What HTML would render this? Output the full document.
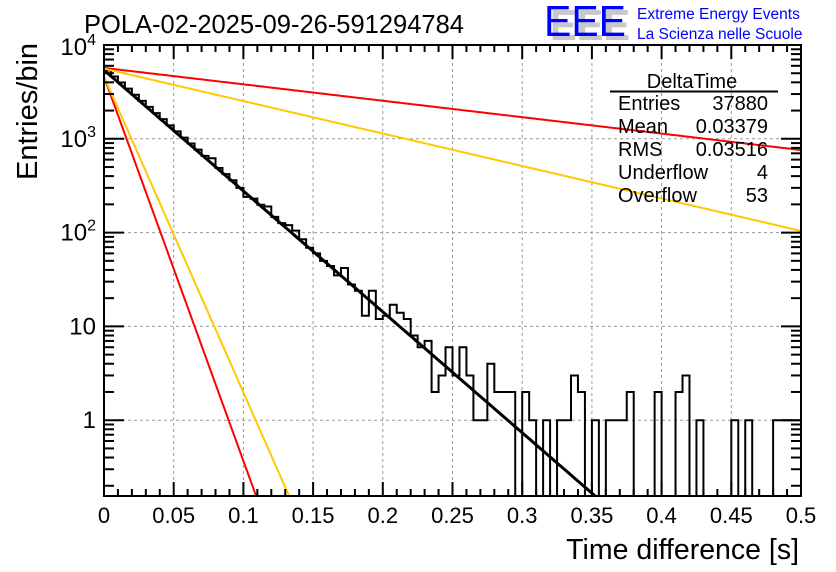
<!DOCTYPE html>
<html><head><meta charset="utf-8"><style>
body{margin:0;background:#fff;}
svg{display:block;font-family:"Liberation Sans",sans-serif;}
</style></head><body>
<svg id="chart" width="836" height="572" viewBox="0 0 836 572" xmlns="http://www.w3.org/2000/svg">
<rect width="836" height="572" fill="#fff"/>
<g id="grid"></g>
<g id="marks"></g>
<g id="axes"></g>
<text x="84" y="33" font-size="25.5">POLA-02-2025-09-26-591294784</text>
<text x="799" y="559" font-size="28.5" text-anchor="end">Time difference [s]</text>
<text transform="translate(37,180) rotate(-90)" font-size="29">Entries/bin</text>
<g>
<text x="550" y="40" font-size="44" fill="#c8c8c8" font-weight="bold" textLength="80" lengthAdjust="spacingAndGlyphs">EEE</text>
<text x="544" y="36" font-size="44" fill="#0000ff" textLength="82" lengthAdjust="spacingAndGlyphs">EEE</text>
<text x="637" y="19" font-size="15.5" fill="#0000ff">Extreme Energy Events</text>
<text x="637" y="39" font-size="15.5" fill="#0000ff">La Scienza nelle Scuole</text>
</g>
<g font-size="20">
<text x="692" y="88" text-anchor="middle">DeltaTime</text>
<line x1="610" y1="91.5" x2="778" y2="91.5" stroke="#000" stroke-width="2"/>
<text x="618" y="110">Entries</text><text x="768" y="110" text-anchor="end">37880</text>
<text x="618" y="133">Mean</text><text x="768" y="133" text-anchor="end">0.03379</text>
<text x="618" y="156">RMS</text><text x="768" y="156" text-anchor="end">0.03516</text>
<text x="618" y="179">Underflow</text><text x="768" y="179" text-anchor="end">4</text>
<text x="618" y="202">Overflow</text><text x="768" y="202" text-anchor="end">53</text>
</g>
</svg>
<script>
// Data
const binWidth = 0.005;
const counts = [5370,4620,3980,3430,2950,2540,2190,1880,1620,1390,
1200,1030,890,766,658,620,488,420,361,300,
240,230,198,190,147,126,120,105,85,69,
60,50,44,35,42,28,24,13,24,12,
13,17,14,12,8,6,7,2,3,6,
3,6,3,1,1,4,2,2,2,0,
2,1,0,1,0,1,1,3,2,0,
1,0,1,1,1,2,0,0,0,2,
0,0,2,3,0,1,0,0,0,0,
1,0,1,0,0,0,1,1,1,1];
const fitNames = ["fit-black","fit-red-steep","fit-yellow-steep","fit-red-flat","fit-yellow-flat"];
const fitColors = ["#000","#ff0000","#ffc800","#ff0000","#ffc800"];
const fitAmp = [5400,4600,4600,5700,5600];
const fitTau = [0.0337,0.0106,0.0129,0.248,0.1255];
const xTicks = [0,0.05,0.1,0.15,0.2,0.25,0.3,0.35,0.4,0.45,0.5];
const yDecades = [0,1,2,3,4];
const yLabels = ["1","10","10²","10³","10⁴"];

const X0=104,X1=801,Y0=45,Y1=496,DEC=93.8;
const XMAX=0.5;
const LOGMIN=4-(Y1-Y0)/DEC;
function sx(v){return X0+(v/XMAX)*(X1-X0);}
function sy(v){let l=v>0?Math.log10(v):-5; if(l<LOGMIN)l=LOGMIN; return Y0+(4-l)*DEC;}
const NS="http://www.w3.org/2000/svg";
function mk(tag,attrs,parent){const e=document.createElementNS(NS,tag);for(const k in attrs)e.setAttribute(k,attrs[k]);parent.appendChild(e);return e;}
const grid=document.getElementById('grid'),marks=document.getElementById('marks'),axes=document.getElementById('axes');

xTicks.forEach((t,i)=>{if(i>0&&i<xTicks.length-1){const l=mk('line',{x1:sx(t),x2:sx(t),y1:Y0,y2:Y1,stroke:'#999','stroke-dasharray':'3,3','stroke-width':1},grid);

}});
yDecades.forEach(d=>{if(d<4){const y=sy(Math.pow(10,d));const l=mk('line',{x1:X0,x2:X1,y1:y,y2:y,stroke:'#999','stroke-dasharray':'3,3','stroke-width':1},grid);

}});

let d='M'+X0+','+Y1;
counts.forEach((c,i)=>{const xa=sx(i*binWidth),xb=sx((i+1)*binWidth),y=sy(c);d+=' L'+xa+','+y+' L'+xb+','+y;});
d+=' L'+X1+','+Y1;
const h=mk('path',{d:d,fill:'none',stroke:'#000','stroke-width':2},marks);



const clip=mk('clipPath',{id:'pc'},document.getElementById('chart'));
mk('rect',{x:X0,y:Y0,width:X1-X0,height:Y1-Y0},clip);
fitAmp.forEach((A,k)=>{let p='';for(let i=0;i<=300;i++){const t=XMAX*i/300;const v=A*Math.exp(-t/fitTau[k]);const l=Math.log10(v);const y=Y0+(4-l)*DEC;p+=(i?' L':'M')+sx(t).toFixed(2)+','+y.toFixed(2);if(l<LOGMIN)break;}
const f=mk('path',{d:p,fill:'none',stroke:fitColors[k],'stroke-width':k==0?3:2,'clip-path':'url(#pc)'},marks);

});

const fr=mk('rect',{x:X0,y:Y0,width:X1-X0,height:Y1-Y0,fill:'none',stroke:'#000','stroke-width':2},axes);


for(let i=0;i<=50;i++){const t=i*0.01;const x=sx(t);const major=i%5==0;const len=major?14:7;
mk('line',{x1:x,x2:x,y1:Y1,y2:Y1-len,stroke:'#000','stroke-width':2},axes);
mk('line',{x1:x,x2:x,y1:Y0,y2:Y0+len,stroke:'#000','stroke-width':2},axes);}
xTicks.forEach(t=>{const tx=mk('text',{x:sx(t),y:523,'font-size':22,'text-anchor':'middle'},axes);tx.textContent=String(t);

});
for(let dd=-1;dd<=3;dd++){for(let m=1;m<=9;m++){const v=m*Math.pow(10,dd);if(Math.log10(v)<LOGMIN)continue;const y=sy(v);const len=m==1?20:10;
mk('line',{x1:X0,x2:X0+len,y1:y,y2:y,stroke:'#000','stroke-width':2},axes);
mk('line',{x1:X1,x2:X1-len,y1:y,y2:y,stroke:'#000','stroke-width':2},axes);}}
yDecades.forEach((dd,i)=>{const y=sy(Math.pow(10,dd));const tx=mk('text',{x:96,y:y+(dd==4?10:8),'font-size':24,'text-anchor':'end'},axes);
if(dd>=2){tx.textContent='10';const s=mk('tspan',{dy:-10,'font-size':16},tx);s.textContent=String(dd);}else tx.textContent=yLabels[i];

});
</script>
</body></html>
